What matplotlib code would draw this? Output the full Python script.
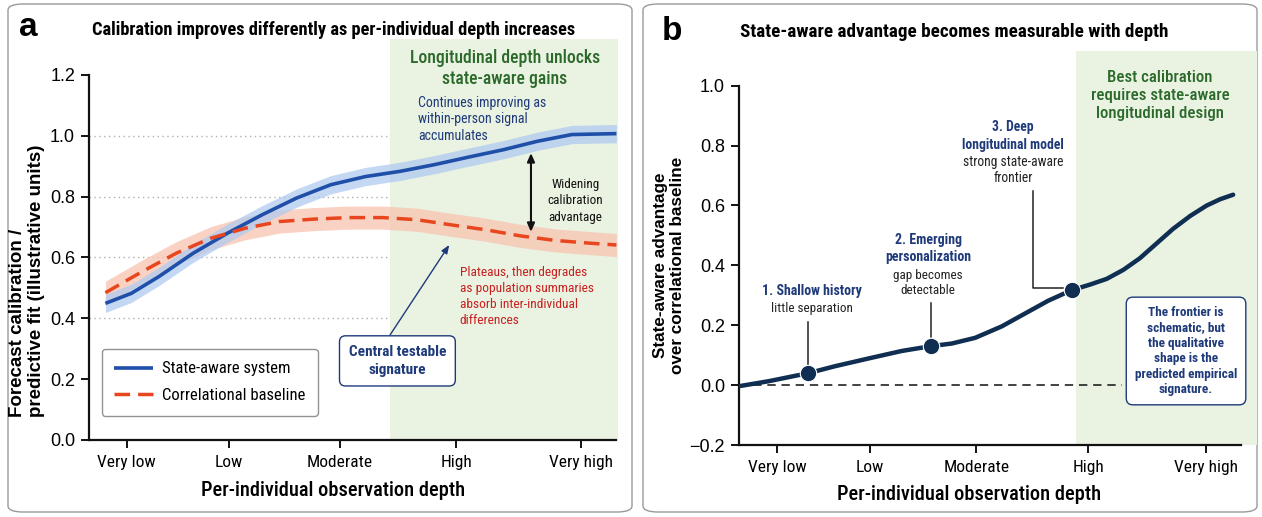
import matplotlib
matplotlib.use("Agg")
import matplotlib.pyplot as plt
from matplotlib.patches import FancyBboxPatch, Rectangle
import numpy as np

# ---------------- data ----------------
depth_labels = ["Very low", "Low", "Moderate", "High", "Very high"]

# Panel a (depth on a 0-1 normalised scale)
a_tick_pos = [0.071, 0.264, 0.474, 0.694, 0.931]
a_state_x = [0.031, 0.080, 0.132, 0.197, 0.262, 0.327, 0.392, 0.457, 0.523,
             0.588, 0.653, 0.718, 0.783, 0.848, 0.913, 0.997]
a_state_y = [0.449, 0.482, 0.537, 0.614, 0.680, 0.740, 0.795, 0.839, 0.866,
             0.883, 0.905, 0.930, 0.954, 0.982, 1.004, 1.007]
a_corr_x = [0.031, 0.100, 0.165, 0.230, 0.295, 0.360, 0.425, 0.490, 0.555,
            0.620, 0.685, 0.750, 0.815, 0.881, 0.946, 0.997]
a_corr_y = [0.484, 0.553, 0.614, 0.663, 0.696, 0.718, 0.726, 0.731, 0.731,
            0.724, 0.707, 0.691, 0.671, 0.656, 0.647, 0.641]
a_state_band = 0.030
a_corr_band = 0.038
a_yticks = [0.0, 0.2, 0.4, 0.6, 0.8, 1.0, 1.2]
a_grid = [0.4, 0.6, 0.8, 1.0]
a_green_start = 0.569

# Panel b
b_tick_pos = [0.073, 0.253, 0.458, 0.674, 0.901]
b_x = [0.002, 0.057, 0.134, 0.185, 0.250, 0.314, 0.370, 0.411, 0.456, 0.507,
       0.552, 0.597, 0.642, 0.678, 0.710, 0.742, 0.774, 0.806, 0.838, 0.871,
       0.903, 0.929, 0.954]
b_y = [-0.003, 0.013, 0.040, 0.063, 0.089, 0.114, 0.130, 0.139, 0.158, 0.196,
       0.239, 0.282, 0.317, 0.336, 0.355, 0.385, 0.424, 0.473, 0.522, 0.565,
       0.600, 0.621, 0.636]
b_mile_x = [0.134, 0.370, 0.642]
b_mile_y = [0.040, 0.130, 0.317]
b_yticks = [-0.2, 0.0, 0.2, 0.4, 0.6, 0.8, 1.0]
b_green_start = 0.650

# ---------------- style ----------------
FONT = ["Roboto Condensed", "DejaVu Sans"]
NUMFONT = ["Liberation Sans", "DejaVu Sans"]
plt.rcParams["font.family"] = FONT
BLUE = "#1f4fa8"
BLUE_BAND = "#b0cbf0"
RED = "#e8461e"
RED_BAND = "#f8c4b0"
GREEN_BG = "#eaf2e2"
GREEN_TXT = "#2b6a2b"
NAVY = "#1f3a7a"
DARK = "#102d52"
RED_TXT = "#c8201e"

W, H = 1262, 517
fig = plt.figure(figsize=(W / 100, H / 100), dpi=100)


def fx(px):
    return px / W


def fy(py):
    return 1 - py / H


# panel borders
for x0, x1 in [(8, 632), (643, 1257)]:
    fig.patches.append(FancyBboxPatch((fx(x0), fy(512)), fx(x1 - x0), (512 - 4) / H,
                                      boxstyle="round,pad=0,rounding_size=0.012",
                                      transform=fig.transFigure, fc="white",
                                      ec="#9a9a9a", lw=1.0, zorder=-5))


def style_axes(ax, yticks, ybounds, xbound_right, tick_pos):
    for s in ["top", "right"]:
        ax.spines[s].set_visible(False)
    for s in ["left", "bottom"]:
        ax.spines[s].set_linewidth(1.6)
        ax.spines[s].set_color("#111111")
    ax.spines["left"].set_bounds(*ybounds)
    ax.spines["bottom"].set_bounds(0, xbound_right)
    ax.set_yticks(yticks)
    ax.set_yticklabels([f"{v:.1f}".replace("-", "\u2212") for v in yticks],
                       fontfamily=NUMFONT, fontsize=13)
    ax.set_xticks(tick_pos)
    ax.set_xticklabels(depth_labels, fontsize=12.5)
    ax.tick_params(axis="both", length=6, width=1.4, color="#111111", pad=4)
    ax.tick_params(axis="x", pad=5)
    ax.set_xlim(0, 1)
    ax.patch.set_alpha(0)


# ================= panel a =================
axa = fig.add_axes([fx(89), fy(440), fx(529), (440 - 39) / H])
axa.set_ylim(0, 1.318)
style_axes(axa, a_yticks, (0, 1.2), 0.996, a_tick_pos)
axa.add_patch(Rectangle((a_green_start, 0), 1 - a_green_start, 1.318,
                        fc=GREEN_BG, ec="none", zorder=0))
for g in a_grid:
    axa.plot([0, a_green_start], [g, g], ls=(0, (1, 2.5)), color="#b0b0b0",
             lw=1.0, zorder=0.5)
sx, sy = np.array(a_state_x), np.array(a_state_y)
cx, cy = np.array(a_corr_x), np.array(a_corr_y)
axa.fill_between(cx, cy - a_corr_band, cy + a_corr_band, color=RED_BAND,
                 alpha=0.75, lw=0, zorder=1)
axa.fill_between(sx, sy - a_state_band, sy + a_state_band, color=BLUE_BAND,
                 alpha=0.75, lw=0, zorder=1.2)
axa.plot(sx, sy, color=BLUE, lw=2.6, solid_capstyle="butt",
         solid_joinstyle="round", zorder=3, label="State-aware system")
axa.plot(cx, cy, color=RED, lw=2.5, dashes=(4.5, 2.3), zorder=3.1,
         label="Correlational baseline")

leg = axa.legend(loc="upper left", bbox_to_anchor=(0.024, 0.227), fontsize=12,
                 frameon=True, fancybox=True, handlelength=2.3,
                 handletextpad=0.55, borderpad=0.75, labelspacing=0.7,
                 borderaxespad=0)
leg.get_frame().set_edgecolor("#777777")
leg.get_frame().set_linewidth(1.0)

axa.text(0.786, 1.220, "Longitudinal depth unlocks\nstate-aware gains",
         color=GREEN_TXT, fontsize=12.7, fontweight="medium", ha="center",
         va="center", linespacing=1.2)
axa.text(0.622, 1.054, "Continues improving as\nwithin-person signal\naccumulates",
         color=NAVY, fontsize=10, ha="left", va="center", linespacing=1.25)
axa.annotate("", xy=(0.8355, 0.943), xytext=(0.8355, 0.684),
             arrowprops=dict(arrowstyle="<|-|>,head_length=0.5,head_width=0.22",
                             color="#111111", lw=1.5, shrinkA=0, shrinkB=0))
axa.text(0.920, 0.787, "Widening\ncalibration\nadvantage", color="#111111",
         fontsize=9.5, ha="center", va="center", linespacing=1.35)
axa.text(0.701, 0.473,
         "Plateaus, then degrades\nas population summaries\nabsorb inter-individual\ndifferences",
         color=RED_TXT, fontsize=9.6, ha="left", va="center", linespacing=1.3)
axa.annotate("", xy=(0.681, 0.641), xytext=(0.569, 0.345),
             arrowprops=dict(arrowstyle="-|>,head_length=0.5,head_width=0.2",
                             color=NAVY, lw=1.0, shrinkA=0, shrinkB=0))
axa.text(0.583, 0.260, "Central testable\nsignature", color=NAVY, fontsize=11,
         fontweight="bold", ha="center", va="center", linespacing=1.35,
         bbox=dict(boxstyle="round,pad=0.6,rounding_size=0.4", fc="white",
                   ec=NAVY, lw=1.0))

fig.text(fx(28), fy(28), "a", fontsize=24, fontweight="bold",
         fontfamily=NUMFONT, ha="center", va="center")
fig.text(fx(334), fy(30), "Calibration improves differently as per-individual depth increases",
         fontsize=13.2, fontweight="bold", ha="center", va="center")
fig.text(fx(333), fy(490), "Per-individual observation depth", fontsize=14.7,
         fontweight="medium", ha="center", va="center")
fig.text(fx(27), fy(281), "Forecast calibration /\npredictive fit (illustrative units)",
         rotation=90, fontsize=13.5, fontweight="bold", ha="center", va="center",
         multialignment="left", fontfamily=NUMFONT, linespacing=1.1)

# ================= panel b =================
axb = fig.add_axes([fx(739), fy(445), fx(518), (445 - 50.7) / H])
axb.set_ylim(-0.2, 1.117)
style_axes(axb, b_yticks, (-0.2, 1.0), 0.969, b_tick_pos)
axb.add_patch(Rectangle((b_green_start, -0.2), 1 - b_green_start, 1.317,
                        fc=GREEN_BG, ec="none", zorder=0))
axb.plot([0, 0.74], [0, 0], color="#222222", lw=1.2, dashes=(5, 3.5), zorder=1)
axb.plot(b_x, b_y, color=DARK, lw=3.2, solid_capstyle="round",
         solid_joinstyle="round", zorder=3)
axb.scatter(b_mile_x, b_mile_y, s=140, color=DARK, edgecolor="white",
            linewidth=0.8, zorder=4)

# milestone labels
axb.text(0.140, 0.313, "1. Shallow history", color=NAVY, fontsize=10,
         fontweight="bold", ha="center", va="center")
axb.text(0.140, 0.255, "little separation", color="#222222", fontsize=9.5,
         ha="center", va="center")
axb.plot([0.134, 0.134], [0.212, 0.067], color="#222222", lw=1.1, zorder=2)

axb.text(0.365, 0.456, "2. Emerging\npersonalization", color=NAVY, fontsize=10,
         fontweight="bold", ha="center", va="center", linespacing=1.3)
axb.text(0.365, 0.341, "gap becomes\ndetectable", color="#222222", fontsize=9.5,
         ha="center", va="center", linespacing=1.25)
axb.plot([0.370, 0.370], [0.274, 0.161], color="#222222", lw=1.1, zorder=2)

axb.text(0.529, 0.833, "3. Deep\nlongitudinal model", color=NAVY, fontsize=9.8,
         fontweight="bold", ha="center", va="center", linespacing=1.35)
axb.text(0.529, 0.719, "strong state-aware\nfrontier", color="#222222",
         fontsize=9.8, ha="center", va="center", linespacing=1.2)
axb.plot([0.568, 0.568, 0.626], [0.647, 0.323, 0.323], color="#222222", lw=1.1,
         zorder=2)

axb.text(0.813, 0.968, "Best calibration\nrequires state-aware\nlongitudinal design",
         color=GREEN_TXT, fontsize=12.2, fontweight="medium", ha="center",
         va="center", linespacing=1.25)
axb.text(0.863, 0.114,
         "The frontier is\nschematic, but\nthe qualitative\nshape is the\npredicted empirical\nsignature.",
         color=NAVY, fontsize=9.5, fontweight="bold", ha="center", va="center",
         linespacing=1.25, zorder=5,
         bbox=dict(boxstyle="round,pad=0.65,rounding_size=0.5", fc="white",
                   ec=NAVY, lw=1.0))

fig.text(fx(672), fy(31), "b", fontsize=24, fontweight="bold",
         fontfamily=NUMFONT, ha="center", va="center")
fig.text(fx(954), fy(32), "State-aware advantage becomes measurable with depth",
         fontsize=13.8, fontweight="bold", ha="center", va="center")
fig.text(fx(969), fy(495), "Per-individual observation depth", fontsize=14.7,
         fontweight="medium", ha="center", va="center")
fig.text(fx(669), fy(265), "State-aware advantage\nover correlational baseline",
         rotation=90, fontsize=12.3, fontweight="bold", ha="center", va="center",
         multialignment="center", fontfamily=NUMFONT, linespacing=1.1)

fig.savefig("out.png", dpi=100)
